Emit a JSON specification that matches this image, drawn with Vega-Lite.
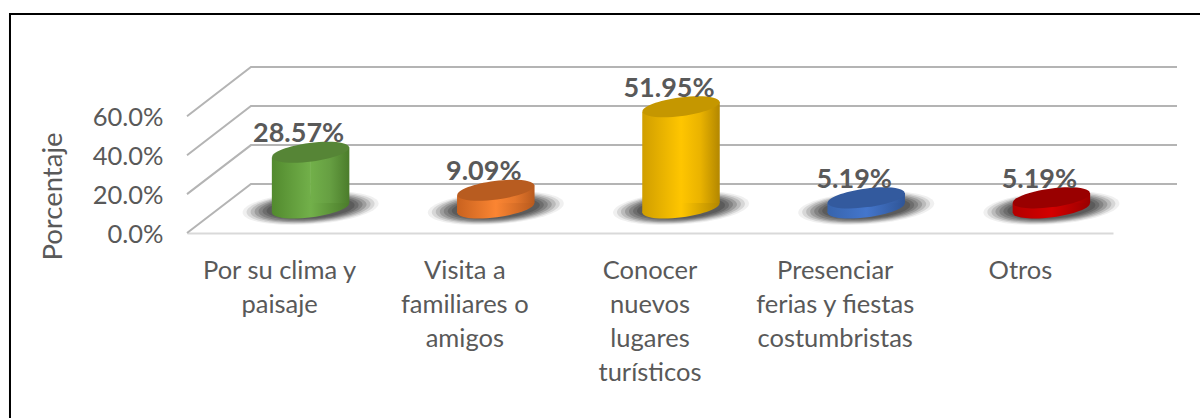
{
"$schema":"https://vega.github.io/schema/vega-lite/v6.json",
"width":990,"height":166,
"autosize":{"type":"none"},
"padding":{"left":187,"top":67,"right":23,"bottom":185},
"background":"white",
"config":{"view":{"stroke":null},"font":"Lato"},
"datasets":{
"bars":[
{"cat":"Por su clima y\npaisaje","value":0.2857},
{"cat":"Visita a\nfamiliares o\namigos","value":0.0909},
{"cat":"Conocer\nnuevos\nlugares\nturísticos","value":0.5195},
{"cat":"Presenciar\nferias y fiestas\ncostumbristas","value":0.0519},
{"cat":"Otros","value":0.0519}],
"grid":[
{"s":"a","p":0,"v":0},{"s":"a","p":0.0646,"v":0.252},{"s":"a","p":1,"v":0.252},
{"s":"b","p":0,"v":0.2},{"s":"b","p":0.0646,"v":0.452},{"s":"b","p":1,"v":0.452},
{"s":"c","p":0,"v":0.4},{"s":"c","p":0.0646,"v":0.653},{"s":"c","p":1,"v":0.653},
{"s":"d","p":0,"v":0.6},{"s":"d","p":0.0646,"v":0.8535},{"s":"d","p":1,"v":0.8535}],
"frame":[
{"i":1,"p":1.03,"v":1.126},{"i":2,"p":-0.1788,"v":1.126},{"i":3,"p":-0.1788,"v":-0.96}]
},
"resolve":{"scale":{"x":"independent","y":"independent","color":"independent"}},
"layer":[
{"data":{"name":"frame"},"mark":{"type":"line","color":"#000000","strokeWidth":2},
 "encoding":{"x":{"field":"p","type":"quantitative","axis":null,"scale":{"domain":[0,1],"nice":false,"zero":false}},
 "y":{"field":"v","type":"quantitative","axis":null,"scale":{"domain":[0,0.8535],"nice":false,"zero":false}},
 "order":{"field":"i"}}},
{"data":{"name":"grid"},"mark":{"type":"line","color":"#b4b4b4","strokeWidth":2},
 "encoding":{"x":{"field":"p","type":"quantitative","axis":null,"scale":{"domain":[0,1],"nice":false,"zero":false}},
 "y":{"field":"v","type":"quantitative","scale":{"domain":[0,0.8535],"nice":false,"zero":false},
  "axis":{"values":[0,0.2,0.4,0.6],"format":".1%","grid":false,"ticks":false,"domain":false,"labelFontSize":25.5,"labelColor":"#595959","labelPadding":24,"labelOffset":1.5,"labelFont":"Lato",
  "title":"Porcentaje","titleFontSize":27.5,"titleFont":"Lato","titleFontWeight":"normal","titleColor":"#595959","titleX":-120,"titleY":129}},
 "detail":{"field":"s"}}},
{"data":{"name":"bars"},"mark":{"type":"rule","opacity":0},
 "encoding":{"x":{"field":"cat","type":"nominal","sort":null,"title":null,"scale":{"range":[0,926],"paddingInner":0,"paddingOuter":0},
  "axis":{"labelAngle":0,"ticks":false,"domain":true,"domainColor":"#d9d9d9","domainWidth":2,"labelFontSize":25.5,"labelColor":"#595959","labelFont":"Lato","labelPadding":25,"labelLineHeight":34,"labelLimit":0,"labelExpr":"split(datum.label,'\\n')"}}}},
{"data":{"name":"bars"},"mark":{"type":"point","filled":true,"color":"#2a2a2a","opacity":0.07,"size":18496,"shape":"M-1,0.07 A1,0.24,-4,1,1,1,-0.07 A1,0.24,-4,1,1,-1,0.07 Z"},
 "encoding":{"x":{"field":"cat","type":"nominal","sort":null,"axis":null,"scale":{"range":[31,957],"paddingInner":0,"paddingOuter":0}},"y":{"datum":0,"type":"quantitative","axis":null,"scale":{"domain":[-0.1282,0.7231],"nice":false,"zero":false}}}},
{"data":{"name":"bars"},"mark":{"type":"point","filled":true,"color":"#2a2a2a","opacity":0.12,"size":16384,"shape":"M-1,0.07 A1,0.24,-4,1,1,1,-0.07 A1,0.24,-4,1,1,-1,0.07 Z"},
 "encoding":{"x":{"field":"cat","type":"nominal","sort":null,"axis":null,"scale":{"range":[31,957],"paddingInner":0,"paddingOuter":0}},"y":{"datum":0,"type":"quantitative","axis":null,"scale":{"domain":[-0.1282,0.7231],"nice":false,"zero":false}}}},
{"data":{"name":"bars"},"mark":{"type":"point","filled":true,"color":"#2a2a2a","opacity":0.16,"size":14400,"shape":"M-1,0.07 A1,0.24,-4,1,1,1,-0.07 A1,0.24,-4,1,1,-1,0.07 Z"},
 "encoding":{"x":{"field":"cat","type":"nominal","sort":null,"axis":null,"scale":{"range":[31,957],"paddingInner":0,"paddingOuter":0}},"y":{"datum":0,"type":"quantitative","axis":null,"scale":{"domain":[-0.1282,0.7231],"nice":false,"zero":false}}}},
{"data":{"name":"bars"},"mark":{"type":"point","filled":true,"color":"#2a2a2a","opacity":0.2,"size":12544,"shape":"M-1,0.07 A1,0.24,-4,1,1,1,-0.07 A1,0.24,-4,1,1,-1,0.07 Z"},
 "encoding":{"x":{"field":"cat","type":"nominal","sort":null,"axis":null,"scale":{"range":[31,957],"paddingInner":0,"paddingOuter":0}},"y":{"datum":0,"type":"quantitative","axis":null,"scale":{"domain":[-0.1282,0.7231],"nice":false,"zero":false}}}},
{"data":{"name":"bars"},"mark":{"type":"point","filled":true,"color":"#2a2a2a","opacity":0.22,"size":10816,"shape":"M-1,0.07 A1,0.24,-4,1,1,1,-0.07 A1,0.24,-4,1,1,-1,0.07 Z"},
 "encoding":{"x":{"field":"cat","type":"nominal","sort":null,"axis":null,"scale":{"range":[31,957],"paddingInner":0,"paddingOuter":0}},"y":{"datum":0,"type":"quantitative","axis":null,"scale":{"domain":[-0.1282,0.7231],"nice":false,"zero":false}}}},
{"data":{"name":"bars"},"mark":{"type":"point","filled":true,"color":"#2a2a2a","opacity":0.24,"size":9216,"shape":"M-1,0.07 A1,0.24,-4,1,1,1,-0.07 A1,0.24,-4,1,1,-1,0.07 Z"},
 "encoding":{"x":{"field":"cat","type":"nominal","sort":null,"axis":null,"scale":{"range":[31,957],"paddingInner":0,"paddingOuter":0}},"y":{"datum":0,"type":"quantitative","axis":null,"scale":{"domain":[-0.1282,0.7231],"nice":false,"zero":false}}}},
{"data":{"name":"bars"},"mark":{"type":"point","filled":true,"color":"#2a2a2a","opacity":0.26,"size":7744,"shape":"M-1,0.07 A1,0.24,-4,1,1,1,-0.07 A1,0.24,-4,1,1,-1,0.07 Z"},
 "encoding":{"x":{"field":"cat","type":"nominal","sort":null,"axis":null,"scale":{"range":[31,957],"paddingInner":0,"paddingOuter":0}},"y":{"datum":0,"type":"quantitative","axis":null,"scale":{"domain":[-0.1282,0.7231],"nice":false,"zero":false}}}},
{"data":{"name":"bars"},"mark":{"type":"point","filled":true,"opacity":1,"size":5929,
  "shape":"M-1,0.13 A1,0.24,-7.4,1,1,1,-0.13 A1,0.24,-7.4,1,1,-1,0.13 Z"},
 "encoding":{"x":{"field":"cat","type":"nominal","sort":null,"axis":null,"scale":{"range":[31,957],"paddingInner":0,"paddingOuter":0}},
 "y":{"datum":0,"type":"quantitative","axis":null,"scale":{"domain":[-0.1282,0.7231],"nice":false,"zero":false}},
 "color":{"field":"cat","type":"nominal","legend":null,"sort":null,"scale":{"range":[
  {"expr":"{gradient:'linear',x1:0,y1:0,x2:1,y2:0,stops:[{offset:0,color:'#528a2e'},{offset:0.5,color:'#72b04a'},{offset:1,color:'#4b7c2b'}]}"},
  {"expr":"{gradient:'linear',x1:0,y1:0,x2:1,y2:0,stops:[{offset:0,color:'#c9621f'},{offset:0.5,color:'#fb8532'},{offset:1,color:'#b85a1e'}]}"},
  {"expr":"{gradient:'linear',x1:0,y1:0,x2:1,y2:0,stops:[{offset:0,color:'#d09e00'},{offset:0.5,color:'#ffc600'},{offset:1,color:'#b38700'}]}"},
  {"expr":"{gradient:'linear',x1:0,y1:0,x2:1,y2:0,stops:[{offset:0,color:'#3764ad'},{offset:0.5,color:'#4476cc'},{offset:1,color:'#2f5597'}]}"},
  {"expr":"{gradient:'linear',x1:0,y1:0,x2:1,y2:0,stops:[{offset:0,color:'#b30000'},{offset:0.5,color:'#d40000'},{offset:1,color:'#990000'}]}"}]}}}},
{"data":{"name":"bars"},"mark":{"type":"bar","width":39},
 "encoding":{"x":{"field":"cat","type":"nominal","sort":null,"axis":null,"scale":{"range":[11.75,937.75],"paddingInner":0,"paddingOuter":0}},
 "y":{"field":"value","type":"quantitative","axis":null,"scale":{"domain":[-0.1026,0.7487],"nice":false,"zero":false}},
 "color":{"field":"cat","type":"nominal","legend":null,"sort":null,"scale":{"range":[
  {"expr":"{gradient:'linear',x1:0,y1:0,x2:1,y2:0,stops:[{offset:0,color:'#528a2e'},{offset:1,color:'#72b04a'}]}"},
  {"expr":"{gradient:'linear',x1:0,y1:0,x2:1,y2:0,stops:[{offset:0,color:'#c9621f'},{offset:1,color:'#fb8532'}]}"},
  {"expr":"{gradient:'linear',x1:0,y1:0,x2:1,y2:0,stops:[{offset:0,color:'#d09e00'},{offset:1,color:'#ffc600'}]}"},
  {"expr":"{gradient:'linear',x1:0,y1:0,x2:1,y2:0,stops:[{offset:0,color:'#3764ad'},{offset:1,color:'#4476cc'}]}"},
  {"expr":"{gradient:'linear',x1:0,y1:0,x2:1,y2:0,stops:[{offset:0,color:'#b30000'},{offset:1,color:'#d40000'}]}"}]}}}},
{"data":{"name":"bars"},"mark":{"type":"bar","width":39},
 "encoding":{"x":{"field":"cat","type":"nominal","sort":null,"axis":null,"scale":{"range":[50.25,976.25],"paddingInner":0,"paddingOuter":0}},
 "y":{"field":"value","type":"quantitative","axis":null,"scale":{"domain":[-0.1538,0.6974],"nice":false,"zero":false}},
 "color":{"field":"cat","type":"nominal","legend":null,"sort":null,"scale":{"range":[
  {"expr":"{gradient:'linear',x1:0,y1:0,x2:1,y2:0,stops:[{offset:0,color:'#72b04a'},{offset:0.5,color:'#669f42'},{offset:1,color:'#4b7c2b'}]}"},
  {"expr":"{gradient:'linear',x1:0,y1:0,x2:1,y2:0,stops:[{offset:0,color:'#fb8532'},{offset:0.5,color:'#e5772c'},{offset:1,color:'#b85a1e'}]}"},
  {"expr":"{gradient:'linear',x1:0,y1:0,x2:1,y2:0,stops:[{offset:0,color:'#ffc600'},{offset:0.5,color:'#eab300'},{offset:1,color:'#b38700'}]}"},
  {"expr":"{gradient:'linear',x1:0,y1:0,x2:1,y2:0,stops:[{offset:0,color:'#4476cc'},{offset:0.5,color:'#3d69b5'},{offset:1,color:'#2f5597'}]}"},
  {"expr":"{gradient:'linear',x1:0,y1:0,x2:1,y2:0,stops:[{offset:0,color:'#d40000'},{offset:0.5,color:'#c00000'},{offset:1,color:'#990000'}]}"}]}}}},
{"data":{"name":"bars"},"mark":{"type":"point","filled":true,"opacity":1,"size":5929,
  "shape":"M-1,0.13 A1,0.24,-7.4,1,1,1,-0.13 A1,0.24,-7.4,1,1,-1,0.13 Z"},
 "encoding":{"x":{"field":"cat","type":"nominal","sort":null,"axis":null,"scale":{"range":[31,957],"paddingInner":0,"paddingOuter":0}},
 "y":{"field":"value","type":"quantitative","axis":null,"scale":{"domain":[-0.1282,0.7231],"nice":false,"zero":false}},
 "color":{"field":"cat","type":"nominal","legend":null,"sort":null,"scale":{"range":["#568536","#b85c20","#c59700","#335a9e","#990000"]}}}},
{"data":{"name":"bars"},"mark":{"type":"text","fontSize":27,"fontWeight":"bold","font":"Lato","color":"#595959","dx":-12,"dy":-18,"baseline":"middle"},
 "encoding":{"x":{"field":"cat","type":"nominal","sort":null,"axis":null,"scale":{"range":[31,957],"paddingInner":0,"paddingOuter":0}},
 "y":{"field":"value","type":"quantitative","axis":null,"scale":{"domain":[-0.1282,0.7231],"nice":false,"zero":false}},
 "text":{"field":"value","type":"quantitative","format":".2%"}}}
]
}
